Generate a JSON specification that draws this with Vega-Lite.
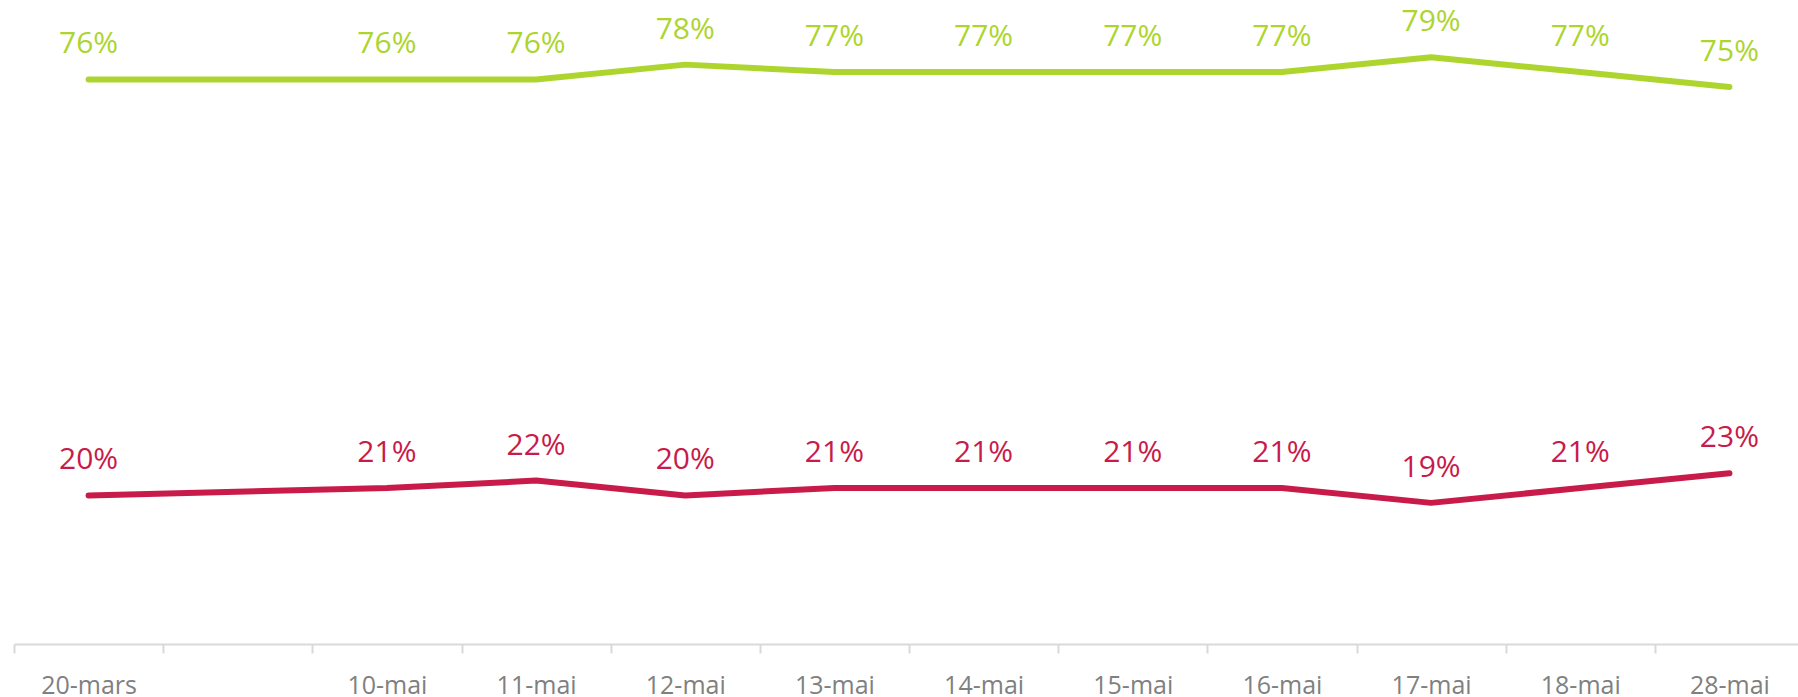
{
  "$schema": "https://vega.github.io/schema/vega-lite/v6.json",
  "autosize": "none",
  "width": 1784,
  "height": 644,
  "padding": {"left": 14, "top": 0, "right": 0, "bottom": 53},
  "background": "white",
  "config": {"view": {"stroke": null}, "font": "Open Sans"},
  "data": {"values": [
    {"date": "20-mars", "serie": "Série 1", "value": 0.76},
    {"date": "10-mai", "serie": "Série 1", "value": 0.76},
    {"date": "11-mai", "serie": "Série 1", "value": 0.76},
    {"date": "12-mai", "serie": "Série 1", "value": 0.78},
    {"date": "13-mai", "serie": "Série 1", "value": 0.77},
    {"date": "14-mai", "serie": "Série 1", "value": 0.77},
    {"date": "15-mai", "serie": "Série 1", "value": 0.77},
    {"date": "16-mai", "serie": "Série 1", "value": 0.77},
    {"date": "17-mai", "serie": "Série 1", "value": 0.79},
    {"date": "18-mai", "serie": "Série 1", "value": 0.77},
    {"date": "28-mai", "serie": "Série 1", "value": 0.75},
    {"date": "20-mars", "serie": "Série 2", "value": 0.20},
    {"date": "10-mai", "serie": "Série 2", "value": 0.21},
    {"date": "11-mai", "serie": "Série 2", "value": 0.22},
    {"date": "12-mai", "serie": "Série 2", "value": 0.20},
    {"date": "13-mai", "serie": "Série 2", "value": 0.21},
    {"date": "14-mai", "serie": "Série 2", "value": 0.21},
    {"date": "15-mai", "serie": "Série 2", "value": 0.21},
    {"date": "16-mai", "serie": "Série 2", "value": 0.21},
    {"date": "17-mai", "serie": "Série 2", "value": 0.19},
    {"date": "18-mai", "serie": "Série 2", "value": 0.21},
    {"date": "28-mai", "serie": "Série 2", "value": 0.23}
  ]},
  "encoding": {
    "x": {
      "field": "date",
      "type": "ordinal",
      "bandPosition": 0.5,
      "scale": {
        "type": "band",
        "domain": ["20-mars", " ", "10-mai", "11-mai", "12-mai", "13-mai", "14-mai", "15-mai", "16-mai", "17-mai", "18-mai", "28-mai"],
        "range": [0, 1790],
        "paddingInner": 0,
        "paddingOuter": 0
      },
      "axis": {
        "title": null,
        "labelAngle": 0,
        "labelFontSize": 25,
        "labelColor": "#808080",
        "labelFont": "Open Sans",
        "labelBaseline": "alphabetic",
        "labelPadding": 40,
        "tickBand": "extent",
        "tickSize": 9,
        "tickColor": "#d9d9d9",
        "tickWidth": 2,
        "domainColor": "#d9d9d9",
        "domainWidth": 2,
        "grid": false
      }
    },
    "y": {
      "field": "value",
      "type": "quantitative",
      "scale": {"domain": [0, 0.867], "nice": false, "zero": true},
      "axis": null
    },
    "color": {
      "field": "serie",
      "type": "nominal",
      "scale": {"domain": ["Série 1", "Série 2"], "range": ["#ADD52D", "#C81B4A"]},
      "legend": null
    }
  },
  "layer": [
    {
      "mark": {"type": "line", "strokeWidth": 6, "strokeCap": "round", "strokeJoin": "round"}
    },
    {
      "mark": {"type": "text", "fontSize": 30, "baseline": "alphabetic", "align": "center", "dy": -26, "font": "Open Sans"},
      "encoding": {
        "text": {"field": "value", "type": "quantitative", "format": ".0%"}
      }
    }
  ]
}
